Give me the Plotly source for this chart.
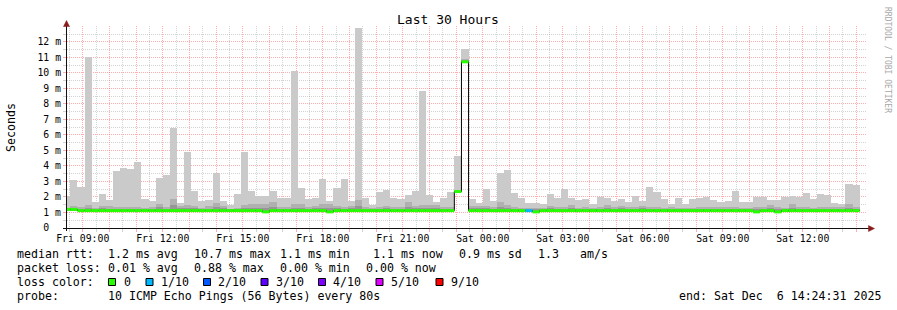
import plotly.graph_objects as go
from datetime import datetime, timedelta

# ---------------- data ----------------
RANGE_START = "2025-12-05 08:24:31"
RANGE_END = "2025-12-06 14:24:31"
FIRST_BAR_START = "2025-12-05 08:16:00"
STEP_SECONDS = 960  # 12 x 80 s consolidated steps

# smoke: max ping (ms)
rtt_max = [
    2.05, 3.10, 2.62, 11.00, 1.70, 2.19, 1.80, 3.68, 3.89, 3.81,
    4.26, 1.87, 1.74, 3.22, 3.44, 6.47, 1.61, 4.90, 2.39, 1.74,
    1.80, 3.53, 1.74, 1.48, 2.19, 4.90, 2.39, 2.06, 2.06, 2.39,
    1.96, 1.96, 10.13, 2.58, 1.87, 1.96, 3.16, 1.74, 2.58, 3.16,
    1.74, 12.90, 1.96, 1.46, 2.32, 2.45, 1.96, 1.87, 2.13, 2.39,
    8.84, 2.13, 1.68, 1.96, 2.32, 4.67, 11.55, 1.87, 1.63, 2.52,
    1.74, 3.57, 3.74, 2.28, 1.96, 1.63, 1.63, 1.53, 2.19, 1.96,
    2.52, 1.96, 1.80, 1.87, 1.55, 2.00, 1.96, 1.74, 1.87, 1.68,
    2.06, 1.74, 2.65, 2.32, 1.87, 1.55, 1.96, 1.55, 1.87, 1.94,
    1.99, 1.80, 1.68, 1.74, 2.39, 1.68, 1.68, 2.00, 2.00, 1.80,
    1.80, 2.00, 2.06, 2.00, 2.26, 1.87, 2.19, 2.13, 1.61, 1.55,
    2.84, 2.77,
]
# smoke: 9th ping (ms)
rtt_p9 = [
    1.30, 1.44, 1.38, 1.48, 1.30, 1.44, 1.44, 1.38, 1.38, 1.38,
    1.38, 1.30, 1.38, 1.55, 1.38, 1.85, 1.44, 1.48, 1.44, 1.30,
    1.40, 1.61, 1.44, 1.25, 1.30, 1.48, 1.55, 1.55, 1.52, 1.68,
    1.38, 1.38, 1.52, 1.52, 1.38, 1.42, 1.52, 1.57, 1.44, 1.38,
    1.44, 1.80, 1.38, 1.27, 1.38, 1.42, 1.38, 1.38, 1.68, 1.44,
    1.46, 1.48, 1.48, 1.38, 1.38, 2.45, 10.90, 1.42, 1.44, 1.42,
    1.38, 1.68, 1.48, 1.38, 1.27, 1.27, 1.27, 1.27, 1.44, 1.38,
    1.38, 1.48, 1.27, 1.38, 1.27, 1.38, 1.48, 1.38, 1.42, 1.38,
    1.38, 1.44, 1.38, 1.38, 1.27, 1.38, 1.27, 1.27, 1.27, 1.38,
    1.38, 1.38, 1.38, 1.38, 1.38, 1.27, 1.27, 1.38, 1.38, 1.48,
    1.38, 1.27, 1.55, 1.38, 1.38, 1.27, 1.38, 1.38, 1.38, 1.38,
    1.55, 1.38,
]
# smoke: 8th ping (ms)
rtt_p8 = [
    1.24, 1.28, 1.24, 1.30, 1.22, 1.26, 1.24, 1.24, 1.24, 1.24,
    1.24, 1.22, 1.24, 1.34, 1.24, 1.50, 1.26, 1.28, 1.26, 1.22,
    1.24, 1.36, 1.26, 1.20, 1.22, 1.28, 1.32, 1.30, 1.30, 1.38,
    1.24, 1.24, 1.30, 1.30, 1.24, 1.26, 1.30, 1.32, 1.26, 1.24,
    1.26, 1.45, 1.24, 1.20, 1.24, 1.26, 1.24, 1.24, 1.36, 1.26,
    1.28, 1.28, 1.28, 1.24, 1.24, 2.40, 10.82, 1.26, 1.26, 1.26,
    1.24, 1.36, 1.28, 1.24, 1.20, 1.20, 1.20, 1.20, 1.26, 1.24,
    1.24, 1.28, 1.20, 1.24, 1.20, 1.24, 1.28, 1.24, 1.26, 1.24,
    1.24, 1.26, 1.24, 1.24, 1.20, 1.24, 1.20, 1.20, 1.20, 1.24,
    1.24, 1.24, 1.24, 1.24, 1.24, 1.20, 1.20, 1.24, 1.24, 1.28,
    1.24, 1.20, 1.32, 1.24, 1.24, 1.20, 1.24, 1.24, 1.24, 1.24,
    1.32, 1.24,
]
# smoke: min ping (ms)
rtt_min = [
    1.08, 1.08, 1.08, 1.08, 1.08, 1.08, 1.08, 1.08, 1.08, 1.08,
    1.08, 1.08, 1.08, 1.08, 1.08, 1.08, 1.08, 1.08, 1.08, 1.08,
    1.08, 1.08, 1.08, 1.08, 1.08, 1.08, 1.08, 1.08, 1.02, 1.08,
    1.08, 1.08, 1.08, 1.08, 1.08, 1.08, 1.08, 1.02, 1.08, 1.08,
    1.08, 1.08, 1.08, 1.08, 1.08, 1.08, 1.08, 1.08, 1.08, 1.08,
    1.08, 1.08, 1.08, 1.08, 1.08, 2.30, 10.65, 1.08, 1.08, 1.08,
    1.08, 1.08, 1.08, 1.08, 1.08, 1.08, 1.02, 1.08, 1.08, 1.08,
    1.08, 1.08, 1.08, 1.08, 1.08, 1.08, 1.08, 1.08, 1.08, 1.08,
    1.08, 1.08, 1.08, 1.08, 1.08, 1.08, 1.08, 1.08, 1.08, 1.08,
    1.08, 1.08, 1.08, 1.08, 1.08, 1.08, 1.08, 1.02, 1.08, 1.08,
    1.02, 1.08, 1.08, 1.08, 1.08, 1.08, 1.08, 1.08, 1.08, 1.08,
    1.08, 1.08,
]
# median rtt (ms)
rtt_median = [
    1.20, 1.20, 1.12, 1.12, 1.12, 1.12, 1.12, 1.12, 1.12, 1.12,
    1.12, 1.12, 1.12, 1.12, 1.12, 1.12, 1.12, 1.12, 1.12, 1.12,
    1.12, 1.12, 1.12, 1.12, 1.12, 1.12, 1.12, 1.12, 1.04, 1.12,
    1.12, 1.12, 1.12, 1.12, 1.12, 1.12, 1.12, 1.04, 1.12, 1.12,
    1.12, 1.12, 1.12, 1.12, 1.12, 1.12, 1.12, 1.12, 1.12, 1.12,
    1.12, 1.12, 1.12, 1.12, 1.12, 2.35, 10.72, 1.12, 1.12, 1.12,
    1.12, 1.12, 1.12, 1.12, 1.12, 1.12, 1.04, 1.12, 1.12, 1.12,
    1.12, 1.12, 1.12, 1.12, 1.12, 1.12, 1.12, 1.12, 1.12, 1.12,
    1.12, 1.12, 1.12, 1.12, 1.12, 1.12, 1.12, 1.12, 1.12, 1.12,
    1.12, 1.12, 1.12, 1.12, 1.12, 1.12, 1.12, 1.04, 1.12, 1.12,
    1.04, 1.12, 1.12, 1.12, 1.12, 1.12, 1.12, 1.12, 1.12, 1.12,
    1.12, 1.12,
]
# packet loss per step (tenths)
loss_tenths = [
    0, 0, 0, 0, 0, 0, 0, 0, 0, 0,
    0, 0, 0, 0, 0, 0, 0, 0, 0, 0,
    0, 0, 0, 0, 0, 0, 0, 0, 0, 0,
    0, 0, 0, 0, 0, 0, 0, 0, 0, 0,
    0, 0, 0, 0, 0, 0, 0, 0, 0, 0,
    0, 0, 0, 0, 0, 0, 0, 0, 0, 0,
    0, 0, 0, 0, 0, 1, 0, 0, 0, 0,
    0, 0, 0, 0, 0, 0, 0, 0, 0, 0,
    0, 0, 0, 0, 0, 0, 0, 0, 0, 0,
    0, 0, 0, 0, 0, 0, 0, 0, 0, 0,
    0, 0, 0, 0, 0, 0, 0, 0, 0, 0,
    0, 0,
]

y_tick_values = [0, 1, 2, 3, 4, 5, 6, 7, 8, 9, 10, 11, 12]
y_tick_labels = ["0\u00a0\u00a0", "1 m", "2 m", "3 m", "4 m", "5 m", "6 m",
                 "7 m", "8 m", "9 m", "10 m", "11 m", "12 m"]
y_minor_values = [0.5, 1.5, 2.5, 3.5, 4.5, 5.5, 6.5, 7.5, 8.5, 9.5, 10.5, 11.5, 12.5]

loss_legend_labels = ["0", "1/10", "2/10", "3/10", "4/10", "5/10", "9/10"]
loss_legend_colors = ["#26ff00", "#00b8ff", "#0059ff", "#5e00ff", "#7e00ff", "#dd00ff", "#ff0000"]
loss_color_of = {0: "#26ff00", 1: "#00b8ff", 2: "#0059ff", 3: "#5e00ff",
                 4: "#7e00ff", 5: "#dd00ff", 9: "#ff0000"}

stats_rtt = ["median rtt:", "1.2 ms avg", "10.7 ms max", "1.1 ms min", "1.1 ms now",
             "0.9 ms sd", "1.3", "am/s"]
stats_loss = ["packet loss:", "0.01 % avg", "0.88 % max", "0.00 % min", "0.00 % now"]
probe_text = ["probe:", "10 ICMP Echo Pings (56 Bytes) every 80s"]
end_text = "end: Sat Dec\u00a0\u00a06 14:24:31 2025"
title_text = "Last 30 Hours"
y_title = "Seconds"
credit_text = "RRDTOOL / TOBI OETIKER"

# ---------------- layout helpers (pixel -> paper) ----------------
W, H = 897, 310
PL, PR, PT, PB = 67, 867, 26, 228
def px(x):
    return (x - PL) / (PR - PL)
def py(y):
    return (PB - y) / (PB - PT)

FONT = "DejaVu Sans Mono"
MAJOR = "rgba(255,60,60,0.42)"
MINOR = "rgba(150,150,150,0.42)"

fmt = "%Y-%m-%d %H:%M:%S"
t0 = datetime.strptime(FIRST_BAR_START, fmt)
n = len(rtt_max)
step = timedelta(seconds=STEP_SECONDS)
centers = [(t0 + step * i + step / 2).strftime(fmt) for i in range(n)]
edges = [(t0 + step * i).strftime(fmt) for i in range(n + 1)]
width_ms = STEP_SECONDS * 1000

rs = datetime.strptime(RANGE_START, fmt)
re_ = datetime.strptime(RANGE_END, fmt)
h = rs.replace(minute=0, second=0) + timedelta(hours=1)
hour_vals, hour_text, half_vals = [], [], []
while h <= re_:
    hour_vals.append(h.strftime(fmt))
    hour_text.append(h.strftime("%a %H:%M") if h.hour % 3 == 0 else "")
    h += timedelta(hours=1)
hh = rs.replace(minute=30, second=0)
if hh < rs:
    hh += timedelta(hours=1)
while hh <= re_:
    half_vals.append(hh.strftime(fmt))
    hh += timedelta(hours=1)

fig = go.Figure()
fig.add_trace(go.Bar(x=centers, y=[a - b for a, b in zip(rtt_max, rtt_min)], base=rtt_min,
                     width=width_ms, marker=dict(color="#cacaca", line=dict(width=0)),
                     hoverinfo="skip"))
fig.add_trace(go.Bar(x=centers, y=[a - b for a, b in zip(rtt_p9, rtt_min)], base=rtt_min,
                     width=width_ms, marker=dict(color="#b0b0b0", line=dict(width=0)),
                     hoverinfo="skip"))
fig.add_trace(go.Bar(x=centers, y=[a - b for a, b in zip(rtt_p8, rtt_min)], base=rtt_min,
                     width=width_ms, marker=dict(color="#969696", line=dict(width=0)),
                     hoverinfo="skip"))
# black stepped median line (visible only at the vertical transitions)
fig.add_trace(go.Scatter(x=edges, y=rtt_median + [rtt_median[-1]], mode="lines",
                         line=dict(color="#000000", width=1, shape="hv"), hoverinfo="skip"))
# loss-coloured median segments, one trace per loss level
for lvl in sorted(set(loss_tenths)):
    xs, ys = [], []
    for i in range(n):
        if loss_tenths[i] == lvl:
            xs += [edges[i], edges[i + 1], None]
            ys += [rtt_median[i], rtt_median[i], None]
    fig.add_trace(go.Scatter(x=xs, y=ys, mode="lines", connectgaps=False,
                             line=dict(color=loss_color_of[lvl], width=3), hoverinfo="skip"))

tickfont = dict(family=FONT, size=9.8, color="#000000")
fig.update_layout(
    width=W, height=H, margin=dict(l=PL, r=W - PR, t=PT, b=H - PB),
    paper_bgcolor="white", plot_bgcolor="white", showlegend=False,
    barmode="overlay", bargap=0,
    xaxis=dict(type="date", range=[RANGE_START, RANGE_END], tickmode="array",
               tickvals=hour_vals, ticktext=hour_text, showgrid=True, gridcolor=MAJOR,
               gridwidth=1, griddash="1px,1px", ticks="outside", ticklen=3, tickcolor=MAJOR,
               tickfont=tickfont, showline=False, zeroline=False, ticklabelstandoff=-2,
               minor=dict(tickmode="array", tickvals=half_vals, showgrid=True, gridcolor=MINOR,
                          gridwidth=1, griddash="1px,1px", ticks="outside", ticklen=3,
                          tickcolor=MINOR)),
    yaxis=dict(range=[0, 13.03], tickmode="array", tickvals=y_tick_values,
               ticktext=y_tick_labels, showgrid=True, gridcolor=MAJOR, gridwidth=1,
               griddash="1px,1px", ticks="outside", ticklen=3, tickcolor=MAJOR,
               tickfont=tickfont, showline=False, zeroline=False,
               minor=dict(tickmode="array", tickvals=y_minor_values, showgrid=True,
                          gridcolor=MINOR, gridwidth=1, griddash="1px,1px", ticks="outside",
                          ticklen=3, tickcolor=MINOR)),
)

shapes = []
AX = "#111111"
ARW = "#8b1c1c"
shapes.append(dict(type="line", xref="paper", yref="paper", x0=px(63), x1=px(870),
                   y0=py(228.5), y1=py(228.5), line=dict(color=AX, width=1), layer="above"))
shapes.append(dict(type="line", xref="paper", yref="paper", x0=px(66.5), x1=px(66.5),
                   y0=py(231), y1=py(23), line=dict(color=AX, width=1), layer="above"))
shapes.append(dict(type="path", xref="paper", yref="paper",
                   path="M {} {} L {} {} L {} {} Z".format(px(66.5), py(20.5), px(63.5), py(26.5), px(69.5), py(26.5)),
                   fillcolor=ARW, line=dict(color=ARW, width=0.5), layer="above"))
shapes.append(dict(type="path", xref="paper", yref="paper",
                   path="M {} {} L {} {} L {} {} Z".format(px(874.5), py(228.5), px(868.5), py(225.5), px(868.5), py(231.5)),
                   fillcolor=ARW, line=dict(color=ARW, width=0.5), layer="above"))

annotations = []
def txt(s, x, y, anchor="left", size=11.6, color="#000000", angle=0, yanchor="middle"):
    annotations.append(dict(text=s, xref="paper", yref="paper", x=px(x), y=py(y),
                            xanchor=anchor, yanchor=yanchor, showarrow=False, textangle=angle,
                            borderpad=0, font=dict(family=FONT, size=size, color=color)))

txt(title_text, 448, 20, anchor="center", size=13)
txt(y_title, 11, 127, anchor="center", size=11.6, angle=-90)
txt(credit_text, 888, 60, anchor="center", size=8, color="#a8a8a8", angle=90)

rtt_x = [15.5, 106.5, 192.5, 278.5, 372, 457.5, 536.5, 578.5]
for s, x in zip(stats_rtt, rtt_x):
    txt(s, x, 254)
loss_x = [15.5, 106.5, 192.5, 278.5, 365]
for s, x in zip(stats_loss, loss_x):
    txt(s, x, 268)
txt("loss color:", 15.5, 282)
sw_x = [108, 145.5, 203, 260.5, 318, 375.5, 435.5]
lab_x = [122.5, 159.5, 216.5, 274.5, 332, 389.5, 449.5]
for lab, col, sx, lx in zip(loss_legend_labels, loss_legend_colors, sw_x, lab_x):
    shapes.append(dict(type="rect", xref="paper", yref="paper",
                       x0=px(sx + 0.5), x1=px(sx + 7.5), y0=py(278.5), y1=py(285.5),
                       fillcolor=col, line=dict(color="#000000", width=1), layer="above"))
    txt(lab, lx, 282)
txt(probe_text[0], 15.5, 296)
txt(probe_text[1], 106.5, 296)
txt(end_text, 881.5, 296, anchor="right")

fig.update_layout(shapes=shapes, annotations=annotations)
fig.write_html("out.html")
